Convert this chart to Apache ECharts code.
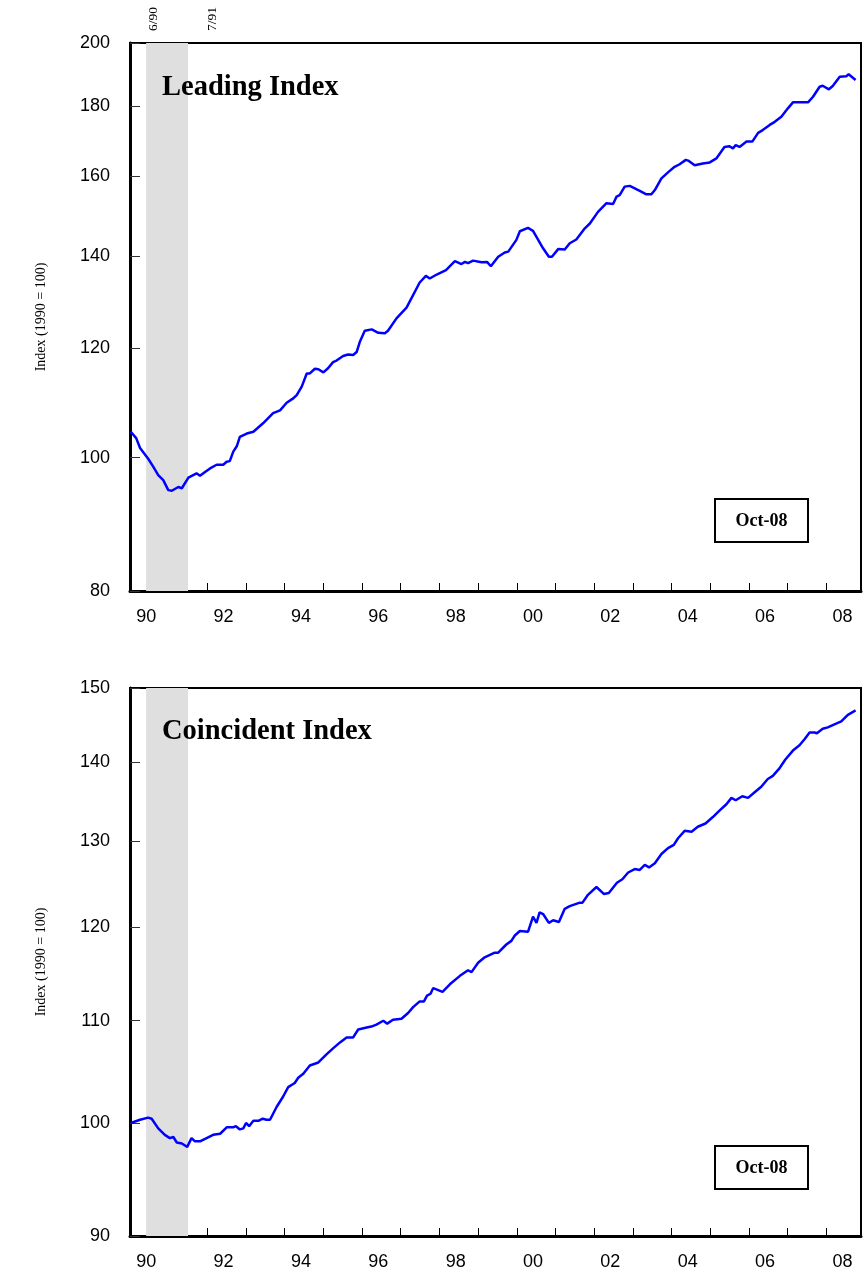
<!DOCTYPE html>
<html>
<head>
<meta charset="utf-8">
<script src="https://cdn.jsdelivr.net/npm/echarts@6/dist/echarts.min.js"></script>
<style>
html,body{margin:0;padding:0;background:#fff;}
#chart{width:863px;height:1274px;}
</style>
</head>
<body>
<div id="chart"></div>
<script>
// ---- Data (decimal years, index 1990 = 100) ----
const leadDates = [1990.02,1990.16,1990.26,1990.47,1990.60,1990.73,1990.86,1990.99,1991.08,1991.25,1991.34,1991.51,1991.72,1991.81,1991.94,1992.07,1992.24,1992.41,1992.50,1992.58,1992.67,1992.76,1992.84,1993.02,1993.19,1993.44,1993.70,1993.88,1994.05,1994.22,1994.31,1994.44,1994.57,1994.65,1994.78,1994.87,1995.00,1995.12,1995.25,1995.34,1995.51,1995.64,1995.77,1995.86,1995.94,1996.07,1996.25,1996.42,1996.59,1996.67,1996.89,1997.15,1997.49,1997.65,1997.75,1997.93,1998.17,1998.40,1998.57,1998.66,1998.74,1998.87,1999.09,1999.23,1999.33,1999.52,1999.69,1999.78,1999.99,2000.08,2000.29,2000.42,2000.68,2000.83,2000.91,2001.07,2001.24,2001.37,2001.54,2001.76,2001.89,2002.10,2002.32,2002.49,2002.58,2002.66,2002.79,2002.92,2003.18,2003.35,2003.48,2003.57,2003.74,2003.91,2004.08,2004.21,2004.37,2004.43,2004.60,2004.81,2004.99,2005.16,2005.37,2005.50,2005.59,2005.66,2005.76,2005.94,2006.09,2006.24,2006.36,2006.54,2006.67,2006.84,2007.01,2007.14,2007.36,2007.53,2007.66,2007.83,2007.91,2008.07,2008.17,2008.35,2008.52,2008.58,2008.76];
const leadValues = [104.4,103.3,101.6,99.8,98.5,97.1,96.3,94.7,94.6,95.2,95.0,96.7,97.4,97.0,97.6,98.2,98.8,98.8,99.3,99.4,101.0,101.9,103.5,104.1,104.4,105.9,107.7,108.2,109.6,110.4,111.0,112.6,115.1,115.1,116.0,115.9,115.3,116.1,117.3,117.6,118.5,118.8,118.7,119.3,121.3,123.6,123.9,123.2,123.1,123.6,126.2,128.5,134.0,135.5,134.9,135.8,136.8,138.9,138.2,138.7,138.4,139.0,138.6,138.7,137.7,139.9,140.9,141.1,143.9,146.0,146.8,146.1,141.9,139.9,139.9,141.7,141.6,143.1,144.0,146.7,147.9,150.8,153.0,152.8,154.7,155.1,157.3,157.5,156.2,155.3,155.3,156.4,159.5,161.1,162.6,163.3,164.5,164.3,163.0,163.5,163.8,164.9,168.1,168.3,167.7,168.6,168.1,169.6,169.6,172.1,172.9,174.4,175.3,176.8,179.3,181.1,181.1,181.1,182.8,185.9,186.2,185.1,186.1,189.0,189.2,189.8,188.0];

const coinDates = [1990.02,1990.26,1990.47,1990.56,1990.73,1990.90,1991.03,1991.12,1991.21,1991.34,1991.48,1991.59,1991.68,1991.81,1991.98,1992.15,1992.33,1992.50,1992.67,1992.74,1992.84,1992.93,1993.00,1993.08,1993.19,1993.32,1993.43,1993.53,1993.62,1993.79,1993.96,1994.09,1994.26,1994.35,1994.48,1994.65,1994.87,1995.08,1995.25,1995.43,1995.60,1995.77,1995.90,1996.12,1996.24,1996.37,1996.55,1996.65,1996.80,1997.02,1997.19,1997.32,1997.49,1997.60,1997.68,1997.77,1997.84,1998.08,1998.27,1998.53,1998.74,1998.83,1999.00,1999.17,1999.43,1999.52,1999.73,1999.86,1999.95,2000.08,2000.29,2000.42,2000.51,2000.59,2000.68,2000.83,2000.94,2001.09,2001.24,2001.37,2001.63,2001.70,2001.84,2002.06,2002.25,2002.38,2002.59,2002.73,2002.88,2003.05,2003.18,2003.31,2003.42,2003.57,2003.74,2003.91,2004.06,2004.17,2004.34,2004.52,2004.57,2004.68,2004.88,2005.07,2005.24,2005.42,2005.55,2005.66,2005.83,2005.98,2006.15,2006.32,2006.49,2006.62,2006.78,2006.94,2007.14,2007.31,2007.44,2007.57,2007.70,2007.76,2007.91,2008.04,2008.17,2008.39,2008.56,2008.76];
const coinValues = [100.0,100.3,100.5,100.4,99.5,98.9,98.6,98.7,98.2,98.1,97.8,98.6,98.3,98.3,98.6,98.9,99.0,99.6,99.6,99.7,99.4,99.5,100.0,99.7,100.2,100.2,100.4,100.3,100.3,101.5,102.5,103.4,103.8,104.3,104.7,105.5,105.8,106.6,107.2,107.8,108.3,108.3,109.1,109.3,109.4,109.6,110.0,109.7,110.1,110.2,110.8,111.4,112.0,112.0,112.6,112.8,113.4,113.0,113.8,114.7,115.3,115.1,116.1,116.7,117.2,117.2,118.1,118.5,119.1,119.6,119.5,121.2,120.5,121.7,121.5,120.5,120.8,120.6,122.1,122.4,122.8,122.8,123.7,124.6,123.8,123.9,125.1,125.5,126.3,126.7,126.6,127.2,126.9,127.4,128.5,129.2,129.6,130.4,131.3,131.2,131.0,131.8,132.2,133.0,133.8,134.6,135.4,135.1,135.6,135.4,136.1,136.8,137.8,138.2,139.1,140.3,141.5,142.2,143.0,143.9,143.9,143.8,144.4,144.6,144.9,145.4,146.3,146.9];

const recession = [1990 + 5/12, 1991.5];       // 6/90 - 7/91
const recessionLabels = ['6/90', '7/91'];
const leadTicks = [80, 100, 120, 140, 160, 180, 200];
const coinTicks = [90, 100, 110, 120, 130, 140, 150];
const yearTicks = [1991,1992,1993,1994,1995,1996,1997,1998,1999,2000,2001,2002,2003,2004,2005,2006,2007,2008];
const yearLabels = [1990,1992,1994,1996,1998,2000,2002,2004,2006,2008];
const titles = ['Leading Index', 'Coincident Index'];
const dateStamp = 'Oct-08';
const yName = 'Index (1990 = 100)';

// ---- Chart ----
const chart = echarts.init(document.getElementById('chart'), null, {renderer: 'canvas'});
const SANS = 'Liberation Sans, Arial, sans-serif';
const SERIF = 'Liberation Serif, Times New Roman, serif';

function xAxisCfg(gi) {
  return {
    type: 'value', gridIndex: gi, min: 1990, max: 2008.9,
    axisLine: {onZero: false, lineStyle: {color: '#000', width: 3}},
    axisTick: {inside: true, length: 8, customValues: yearTicks, lineStyle: {color: '#000', width: 1}},
    axisLabel: {
      customValues: yearLabels.map(y => y + 0.42),
      formatter: v => String(Math.floor(v) % 100).padStart(2, '0'),
      color: '#000', fontSize: 18, fontFamily: SANS, margin: 17
    },
    splitLine: {show: false}
  };
}
function yAxisCfg(gi, ticks) {
  return {
    type: 'log', logBase: 10, gridIndex: gi, min: ticks[0], max: ticks[ticks.length - 1],
    name: yName, nameLocation: 'middle', nameGap: 82, nameRotate: 90,
    nameTextStyle: {color: '#000', fontSize: 14, fontFamily: SERIF},
    axisLine: {lineStyle: {color: '#000', width: 3}},
    axisTick: {inside: true, length: 10, customValues: ticks, lineStyle: {color: '#333', width: 1}},
    axisLabel: {customValues: ticks, color: '#000', fontSize: 18, fontFamily: SANS, margin: 20,
      formatter: v => String(Math.round(v))},
    splitLine: {show: false}, minorTick: {show: false}
  };
}
function seriesCfg(gi, dates, values) {
  return {
    type: 'line', xAxisIndex: gi, yAxisIndex: gi,
    data: dates.map((d, i) => [d, values[i]]),
    showSymbol: false, smooth: false,
    lineStyle: {color: '#0000FF', width: 2.5},
    itemStyle: {color: '#0000FF'},
    z: 5,
    markArea: {
      silent: true,
      itemStyle: {color: '#DFDFDF'},
      data: [[{xAxis: recession[0]}, {xAxis: recession[1]}]]
    }
  };
}
function stampBox(x, y) {
  return {
    type: 'group', left: x, top: y, z: 50,
    children: [
      {type: 'rect', shape: {x: 0, y: 0, width: 93, height: 43}, style: {fill: '#fff', stroke: '#000', lineWidth: 2}},
      {type: 'text', x: 46.5, y: 22, style: {text: dateStamp, font: 'bold 18px ' + SERIF, fill: '#000', align: 'center', verticalAlign: 'middle'}}
    ]
  };
}

const option = {
  backgroundColor: '#fff',
  animation: false,
  grid: [
    {left: 130, right: 2, top: 43, height: 548, show: true, borderColor: '#000', borderWidth: 2, backgroundColor: 'transparent'},
    {left: 130, right: 2, top: 688, height: 548, show: true, borderColor: '#000', borderWidth: 2, backgroundColor: 'transparent'}
  ],
  xAxis: [xAxisCfg(0), xAxisCfg(1)],
  yAxis: [yAxisCfg(0, leadTicks), yAxisCfg(1, coinTicks)],
  series: [seriesCfg(0, leadDates, leadValues), seriesCfg(1, coinDates, coinValues)],
  graphic: [
    {type: 'text', x: 162, y: 88, z: 50, style: {text: titles[0], font: 'bold 28.5px ' + SERIF, fill: '#000', verticalAlign: 'middle'}},
    {type: 'text', x: 162, y: 732, z: 50, style: {text: titles[1], font: 'bold 28.5px ' + SERIF, fill: '#000', verticalAlign: 'middle'}},
    {type: 'text', x: 153, y: 19, rotation: Math.PI / 2, z: 50, style: {text: recessionLabels[0], font: '13.5px ' + SERIF, fill: '#000', align: 'center', verticalAlign: 'middle'}},
    {type: 'text', x: 212, y: 19, rotation: Math.PI / 2, z: 50, style: {text: recessionLabels[1], font: '13.5px ' + SERIF, fill: '#000', align: 'center', verticalAlign: 'middle'}},
    stampBox(714, 498),
    stampBox(714, 1145)
  ]
};
chart.setOption(option);
</script>
</body>
</html>
